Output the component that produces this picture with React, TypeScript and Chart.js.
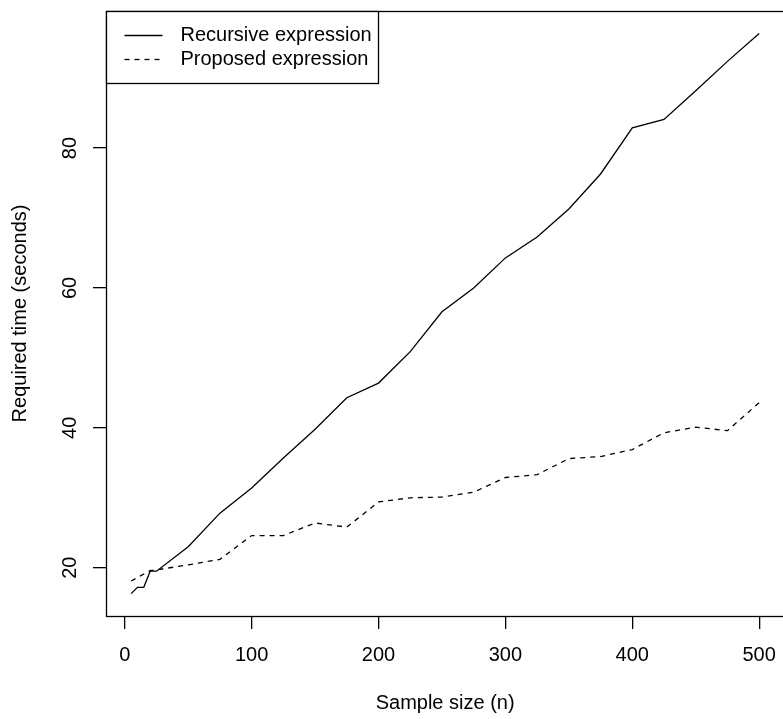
import React, { useEffect, useRef } from "react";
import { Chart, registerables } from "chart.js";

Chart.register(...registerables);

// ---- Data ----
const sampleSizes = [5, 10, 15, 20, 25, 50, 75, 100, 125, 150, 175, 200, 225, 250, 275, 300, 325, 350, 375, 400, 425, 450, 475, 500];
const recursiveTimes = [16.3, 17.2, 17.2, 19.5, 19.5, 23.0, 27.8, 31.4, 35.7, 39.8, 44.3, 46.4, 50.9, 56.6, 60.0, 64.3, 67.3, 71.3, 76.3, 82.9, 84.1, 88.2, 92.4, 96.4];
const proposedTimes = [18.1, 18.6, 19.1, 19.6, 19.7, 20.4, 21.2, 24.6, 24.6, 26.4, 25.8, 29.4, 30.0, 30.1, 30.8, 32.9, 33.3, 35.6, 35.9, 36.9, 39.3, 40.1, 39.6, 43.6];
const xTicks = [0, 100, 200, 300, 400, 500];
const yTicks = [20, 40, 60, 80];
const seriesLabels = ["Recursive expression", "Proposed expression"];
const xTitle = "Sample size (n)";
const yTitle = "Required time (seconds)";

const FONT = '"Liberation Sans", Arial, Helvetica, sans-serif';
const FS = 20;

function extendRange(vals: number[]) {
  const lo = Math.min(...vals);
  const hi = Math.max(...vals);
  const d = (hi - lo) * 0.04;
  return [lo - d, hi + d];
}

export default function App() {
  const ref = useRef<HTMLCanvasElement>(null);

  useEffect(() => {
    const canvas = ref.current;
    if (!canvas) return;
    const [xMin, xMax] = extendRange(sampleSizes);
    const [yMin, yMax] = extendRange([...recursiveTimes, ...proposedTimes]);

    const framePlugin = {
      id: "rframe",
      afterDraw(chart: any) {
        const ctx = chart.ctx;
        const a = chart.chartArea;
        ctx.save();
        // plot box
        ctx.strokeStyle = "#000";
        ctx.lineWidth = 1.3;
        ctx.setLineDash([]);
        ctx.strokeRect(Math.round(a.left) + 0.5, Math.round(a.top) + 0.5, Math.round(a.right - a.left), Math.round(a.bottom - a.top));

        // y tick labels (rotated, R style)
        const ys = chart.scales.y;
        ctx.fillStyle = "#000";
        ctx.font = `${FS}px ${FONT}`;
        ys.ticks.forEach((t: any) => {
          const py = ys.getPixelForValue(t.value);
          ctx.save();
          ctx.translate(ys.right - 36, py);
          ctx.rotate(-Math.PI / 2);
          ctx.textAlign = "center";
          ctx.textBaseline = "middle";
          ctx.fillText(String(t.value), 0, 0);
          ctx.restore();
        });

        // legend
        const lx = Math.round(a.left) + 0.5;
        const ly = Math.round(a.top) + 0.5;
        const lw = 272;
        const lh = 72;
        ctx.fillStyle = "#fff";
        ctx.fillRect(lx, ly, lw, lh);
        ctx.strokeStyle = "#000";
        ctx.lineWidth = 1.3;
        ctx.strokeRect(lx, ly, lw, lh);
        chart.data.datasets.forEach((ds: any, i: number) => {
          const cy = ly + 24 + i * 24;
          ctx.beginPath();
          ctx.setLineDash(ds.borderDash || []);
          ctx.lineWidth = ds.borderWidth;
          ctx.strokeStyle = ds.borderColor;
          ctx.moveTo(lx + 18, cy);
          ctx.lineTo(lx + 56, cy);
          ctx.stroke();
          ctx.setLineDash([]);
          ctx.fillStyle = "#000";
          ctx.textAlign = "left";
          ctx.textBaseline = "middle";
          ctx.font = `${FS}px ${FONT}`;
          ctx.fillText(ds.label, lx + 74, cy);
        });
        ctx.restore();
      },
    };

    const chart = new Chart(canvas, {
      type: "line",
      data: {
        datasets: [
          {
            label: seriesLabels[0],
            data: sampleSizes.map((x, i) => ({ x, y: recursiveTimes[i] })),
            borderColor: "#000",
            borderWidth: 1.3,
            pointRadius: 0,
            tension: 0,
            fill: false,
          },
          {
            label: seriesLabels[1],
            data: sampleSizes.map((x, i) => ({ x, y: proposedTimes[i] })),
            borderColor: "#000",
            borderWidth: 1.3,
            borderDash: [5, 5],
            pointRadius: 0,
            tension: 0,
            fill: false,
          },
        ],
      },
      options: {
        animation: false,
        responsive: false,
        devicePixelRatio: 1,
        layout: { padding: { top: 11, right: 4, bottom: 0, left: 0 } },
        plugins: { legend: { display: false }, tooltip: { enabled: false } },
        scales: {
          x: {
            type: "linear",
            min: xMin,
            max: xMax,
            afterBuildTicks: (s: any) => {
              s.ticks = xTicks.map((v) => ({ value: v }));
            },
            afterFit: (s: any) => {
              s.height = 103;
            },
            grid: { drawOnChartArea: false, drawTicks: true, tickLength: 13, color: "#000", lineWidth: 1.3 },
            border: { display: false },
            ticks: { font: { size: FS, family: FONT }, color: "#000", padding: 14, maxRotation: 0, autoSkip: false },
            title: { display: true, text: xTitle, color: "#000", font: { size: FS, family: FONT }, padding: { top: 0, bottom: 4 } },
          },
          y: {
            type: "linear",
            min: yMin,
            max: yMax,
            afterBuildTicks: (s: any) => {
              s.ticks = yTicks.map((v) => ({ value: v }));
            },
            afterFit: (s: any) => {
              s.width = 106;
            },
            grid: { drawOnChartArea: false, drawTicks: true, tickLength: 13, color: "#000", lineWidth: 1.3 },
            border: { display: false },
            ticks: { display: false },
            title: { display: true, text: yTitle, color: "#000", font: { size: FS, family: FONT }, padding: { top: 8, bottom: 0 } },
          },
        },
      },
      plugins: [framePlugin],
    } as any);

    return () => chart.destroy();
  }, []);

  return (
    <div style={{ position: "fixed", left: 0, top: 0, width: 783, height: 719, overflow: "hidden", background: "#fff" }}>
      <canvas ref={ref} width={790} height={719} style={{ display: "block", width: 790, height: 719 }} />
    </div>
  );
}
